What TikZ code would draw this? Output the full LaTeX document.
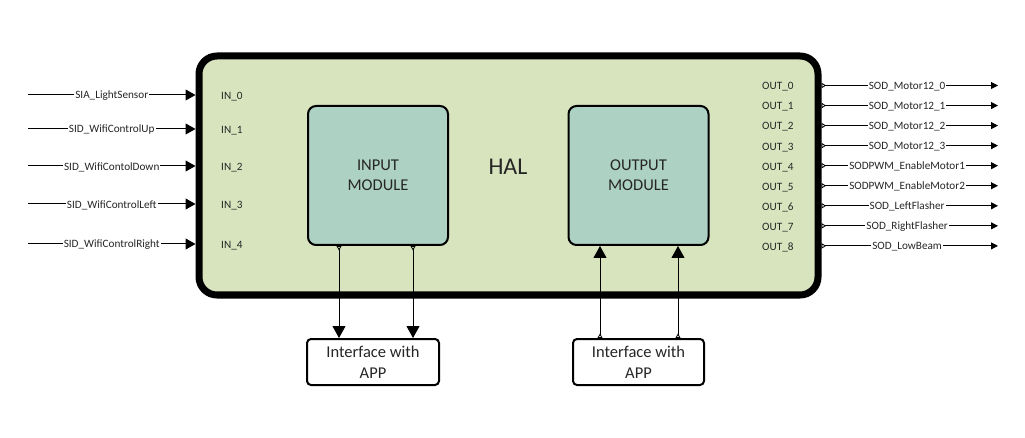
\documentclass[tikz,border=0pt]{standalone}
\usepackage{fontspec}
\setmainfont{Carlito}
\usetikzlibrary{arrows.meta}
\definecolor{halfill}{RGB}{215,228,189}
\definecolor{modfill}{RGB}{173,210,196}
\definecolor{txt}{RGB}{38,38,38}
\tikzset{
  halbox/.style={draw=black, line width=7pt, fill=halfill, rounded corners=18pt, minimum width=619pt, minimum height=239pt, inner sep=0pt},
  modbox/.style={draw=black, line width=2pt, fill=modfill, rounded corners=8pt, minimum width=140pt, minimum height=139pt, align=center, font=\fontsize{16.5}{20}\selectfont, text=txt, inner sep=0pt},
  ifbox/.style={draw=black, line width=2pt, fill=white, rounded corners=4pt, minimum height=46pt, align=center, font=\fontsize{16.5}{21}\selectfont, text=txt, inner sep=0pt},
  portlbl/.style={font=\fontsize{11.2}{13}\selectfont, text=txt, anchor=west, inner sep=0pt, yshift=-1.5pt},
  siglbl/.style={font=\fontsize{11.2}{13}\selectfont, text=txt, fill=white, inner sep=1pt, yshift=-1pt},
  inarrow/.style={line width=1pt, -{Triangle[length=10pt,width=11pt]}},
  outarrow/.style={line width=1pt, {Triangle[reversed,open,length=4.5pt,width=5.5pt,line width=0.8pt]}-{Triangle[length=7pt,width=7pt]}},
  busarrow/.style={line width=1pt, {Triangle[reversed,open,length=4.5pt,width=5pt,line width=0.8pt]}-{Triangle[length=12pt,width=13pt]}}
}
\begin{document}
\begin{tikzpicture}[x=1pt,y=-1pt]
\useasboundingbox (0,0) rectangle (1025,438);

\node[halbox] (hal) at (508.5,175.5) {};
\node[font=\fontsize{24}{28}\selectfont, text=txt] (haltxt) at (508,167) {HAL};

\node[modbox] (imod) at (378,175.5) {INPUT\\MODULE};
\node[modbox] (omod) at (638.5,175.5) {OUTPUT\\MODULE};

\node[ifbox, minimum width=132pt] (ifl) at (373,362) {Interface with\\APP};
\node[ifbox, minimum width=131pt] (ifr) at (638.5,362) {Interface with\\APP};

% inputs
\foreach \i/\y/\name in {0/95/SIA\_LightSensor,1/129/SID\_WifiControlUp,2/166/SID\_WifiContolDown,3/204/SID\_WifiControlLeft,4/244/SID\_WifiControlRight}{
  \coordinate (in\i) at (28,\y);
  \node[portlbl] (inl\i) at (221,\y) {IN\_\i};
  \draw[inarrow] (in\i) -- node[siglbl, midway] (ins\i) {\name} (hal.west |- in\i);
}

% outputs
\foreach \i/\name in {0/SOD\_Motor12\_0,1/SOD\_Motor12\_1,2/SOD\_Motor12\_2,3/SOD\_Motor12\_3,4/SODPWM\_EnableMotor1,5/SODPWM\_EnableMotor2,6/SOD\_LeftFlasher,7/SOD\_RightFlasher,8/SOD\_LowBeam}{
  \pgfmathsetmacro{\yy}{85.5+20.05*\i}
  \coordinate (out\i) at (998,\yy);
  \node[portlbl] (outl\i) at (762,\yy) {OUT\_\i};
  \draw[outarrow] (hal.east |- out\i) -- node[siglbl, pos=0.485] (outs\i) {\name} (out\i);
}

% module links
\coordinate (xa) at (339,0);
\coordinate (xb) at (413,0);
\coordinate (xc) at (600,0);
\coordinate (xd) at (678,0);
\draw[busarrow] (imod.south -| xa) -- (ifl.north -| xa);
\draw[busarrow] (imod.south -| xb) -- (ifl.north -| xb);
\draw[busarrow] (ifr.north -| xc) -- (omod.south -| xc);
\draw[busarrow] (ifr.north -| xd) -- (omod.south -| xd);
\end{tikzpicture}
\end{document}
